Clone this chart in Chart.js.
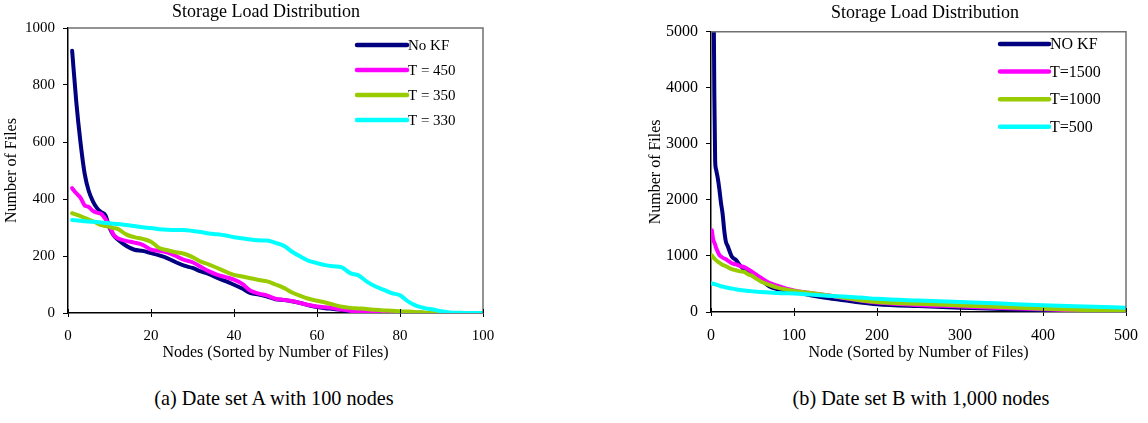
<!DOCTYPE html>
<html>
<head>
<meta charset="utf-8">
<script src="https://cdn.jsdelivr.net/npm/chart.js@4.4.4/dist/chart.umd.min.js"></script>
<style>
  html, body { margin: 0; padding: 0; background: #fff; width: 1148px; height: 423px; overflow: hidden; }
  .wrap { position: absolute; top: 0; }
  .cap {
    position: absolute; top: 385px;
    font-family: "Liberation Serif", "Times New Roman", serif; font-size: 22px; color: #000;
    white-space: nowrap; transform: translateX(-50%) scaleX(0.92);
  }
</style>
</head>
<body>
<div class="wrap" style="left:0"><canvas id="chartA" width="560" height="370"></canvas></div>
<div class="wrap" style="left:560px"><canvas id="chartB" width="588" height="370"></canvas></div>
<div class="cap" id="capA" style="left:274px"></div>
<div class="cap" id="capB" style="left:921px"></div>

<script>
// ── Data: set A (100 nodes) ────────────────────────────────────────────────
const nodesA = [1, 2, 3, 4, 5, 6, 7, 8, 9, 10, 11, 12,
  14, 16, 18, 20, 22, 24, 26, 28, 30, 32, 34, 36, 38, 40, 42, 44, 46, 48, 50, 52,
  54, 56, 58, 60, 62, 64, 66, 68, 70, 72, 74, 76, 78, 80, 82, 84, 86, 88, 90, 92,
  94, 96, 98, 100];
const noKfA = [920, 740, 600, 490, 428, 392, 368, 354, 343, 300, 272, 258,
  236, 222, 218, 210, 202, 192, 178, 166, 158, 146, 136, 123, 112, 99, 86, 70, 65, 58, 48, 46,
  41, 35, 27, 21, 17, 14, 10, 7, 5, 4, 3, 2, 2, 1, 1, 1, 0, 0, 0, 0,
  0, 0, 0, 0];
const t450A = [438, 420, 405, 378, 372, 358, 352, 348, 330, 305, 274, 262,
  253, 247, 239, 222, 218, 212, 200, 186, 178, 162, 146, 134, 126, 117, 102, 78, 68, 61, 50, 46,
  42, 35, 28, 23, 20, 17, 12, 8, 5, 3, 2, 1, 1, 1, 0, 0, 0, 0, 0, 0,
  0, 0, 0, 0];
const t350A = [350, 345, 340, 334, 328, 322, 315, 308, 305, 302, 298, 295,
  276, 266, 260, 250, 228, 220, 213, 208, 196, 180, 170, 158, 145, 134, 128, 122, 116, 111, 100, 88,
  72, 60, 50, 43, 37, 29, 22, 18, 16, 14, 11, 9, 8, 6, 5, 3, 2, 0, 0, 0,
  0, 0, 0, 0];
const t330A = [326, 325, 324, 322, 321, 320, 319, 318, 316, 315, 313, 312,
  309, 305, 301, 298, 294, 292, 291, 291, 288, 284, 279, 276, 272, 266, 262, 258, 255, 254, 246, 236,
  215, 198, 183, 175, 168, 164, 160, 140, 132, 110, 94, 82, 70, 62, 40, 25, 17, 12, 6, 2,
  1, 0, 0, 0];
const labelsA = ['No KF', 'T = 450', 'T = 350', 'T = 330'];

// ── Data: set B (1,000 nodes, first 500 shown) ─────────────────────────────
const nodesB = [1, 2, 3, 4, 5, 6, 8, 10, 12, 14, 16, 18, 20, 25, 30, 35, 40, 45, 50, 55,
  60, 70, 80, 90, 100, 120, 140, 160, 180, 200, 250, 300, 350, 400, 450, 500];
const noKfB = [14000, 9000, 6000, 3900, 2700, 2550, 2400, 2200, 1950, 1750, 1450, 1250, 1180, 990, 930, 830, 760, 715, 670, 625,
  580, 460, 410, 385, 360, 300, 250, 210, 170, 140, 105, 78, 52, 32, 18, 8];
const t1500B = [1460, 1350, 1270, 1240, 1200, 1150, 1080, 1020, 990, 970, 955, 940, 920, 870, 850, 820, 800, 760, 710, 660,
  610, 520, 470, 420, 385, 340, 300, 250, 205, 170, 125, 100, 70, 48, 25, 10];
const t1000B = [1010, 990, 970, 955, 940, 925, 900, 880, 860, 840, 830, 815, 800, 765, 745, 725, 715, 670, 640, 590,
  545, 485, 435, 400, 375, 340, 300, 255, 210, 180, 145, 118, 90, 60, 35, 15];
const t500B = [510, 505, 500, 498, 495, 490, 480, 470, 460, 452, 447, 440, 432, 420, 405, 392, 382, 375, 368, 362,
  355, 348, 340, 335, 330, 310, 290, 275, 258, 235, 205, 180, 150, 120, 98, 78];
const labelsB = ['NO KF', 'T=1500', 'T=1000', 'T=500'];

const chartTitle = 'Storage Load Distribution';
const captions = ['(a) Date set A with 100 nodes', '(b) Date set B with 1,000 nodes'];

// ── Style ──────────────────────────────────────────────────────────────────
const SERIF  = '"Liberation Serif", "Times New Roman", serif';
const NAVY   = '#000080';
const PINK   = '#FF00FF';
const LIME   = '#99CC00';
const CYAN   = '#00FFFF';
const COLORS = [NAVY, PINK, LIME, CYAN];

// frame top/right, inner x tick halves, title and in-plot legend
const decor = {
  id: 'decor',
  afterDraw(chart, args, o) {
    const { ctx, chartArea: a, scales: { x } } = chart;
    ctx.save();
    ctx.strokeStyle = '#707070';
    ctx.lineWidth = 1.5;
    ctx.beginPath();
    ctx.moveTo(a.left, a.top);
    ctx.lineTo(a.right, a.top);
    ctx.lineTo(a.right, a.bottom);
    ctx.stroke();

    ctx.strokeStyle = '#000';
    ctx.lineWidth = 1;
    x.ticks.forEach(t => {
      const px = Math.round(x.getPixelForValue(t.value)) + 0.5;
      ctx.beginPath();
      ctx.moveTo(px, a.bottom);
      ctx.lineTo(px, a.bottom - 4);
      ctx.stroke();
    });

    ctx.fillStyle = '#000';
    ctx.textAlign = 'center';
    ctx.textBaseline = 'middle';
    ctx.font = `18px ${SERIF}`;
    ctx.fillText(o.title, o.titleX, o.titleY);

    ctx.textAlign = 'left';
    ctx.font = `${o.size}px ${SERIF}`;
    chart.data.datasets.forEach((ds, i) => {
      const y = o.y0 + i * o.dy;
      ctx.strokeStyle = ds.borderColor;
      ctx.lineWidth = 4.5;
      ctx.lineCap = 'round';
      ctx.beginPath();
      ctx.moveTo(o.x0, y);
      ctx.lineTo(o.x0 + o.len, y);
      ctx.stroke();
      ctx.fillText(ds.label, o.x0 + o.len + 1, y + 1);
    });
    ctx.restore();
  },
};

function series(xs, ys, label, i) {
  return {
    label,
    data: xs.map((x, k) => ({ x, y: ys[k] })),
    borderColor: COLORS[i],
    backgroundColor: COLORS[i],
    borderWidth: 4,
    borderCapStyle: 'round',
    borderJoinStyle: 'round',
    pointRadius: 0,
    cubicInterpolationMode: 'monotone',
    order: 4 - i,
  };
}

const plain = v => String(v);   // no thousands separators, as in the original

function axes(xMax, xStep, yMax, yStep, xTitle, fs, yW, xH) {
  const tickFont = { family: SERIF, size: fs, weight: 'normal' };
  const titleFont = { family: SERIF, size: 16, weight: 'normal' };
  return {
    x: {
      type: 'linear', min: 0, max: xMax,
      ticks: { stepSize: xStep, color: '#000', font: tickFont, padding: 10, maxRotation: 0, callback: plain },
      grid: { drawOnChartArea: false, tickLength: 4, color: '#000' },
      border: { color: '#000', width: 1.5 },
      title: { display: true, text: xTitle, color: '#000', font: titleFont, padding: { top: 0, bottom: 8 } },
      afterFit(s) { s.height = xH; },
    },
    y: {
      type: 'linear', min: 0, max: yMax,
      ticks: { stepSize: yStep, color: '#000', font: tickFont, padding: 8, callback: plain },
      grid: { drawOnChartArea: false, tickLength: 5, color: '#000' },
      border: { color: '#000', width: 1.5 },
      title: { display: true, text: 'Number of Files', color: '#000', font: titleFont, padding: { top: 0, bottom: 4 } },
      afterFit(s) { s.width = yW; },
    },
  };
}

function mount(id, datasets, scales, padding, decorOpts) {
  return new Chart(document.getElementById(id), {
    type: 'line',
    data: { datasets },
    options: {
      responsive: false,
      animation: false,
      layout: { padding },
      plugins: { legend: { display: false }, tooltip: { enabled: false }, decor: decorOpts },
      scales,
    },
    plugins: [decor],
  });
}

mount('chartA',
  [series(nodesA, noKfA, labelsA[0], 0), series(nodesA, t450A, labelsA[1], 1),
   series(nodesA, t350A, labelsA[2], 2), series(nodesA, t330A, labelsA[3], 3)],
  axes(100, 20, 1000, 200, 'Nodes (Sorted by Number of Files)', 15, 66, 57),
  { left: 2, right: 77, top: 28, bottom: 0 },
  { title: chartTitle, titleX: 266, titleY: 12, x0: 357, len: 50, y0: 45, dy: 25, size: 15 });

mount('chartB',
  [series(nodesB, noKfB, labelsB[0], 0), series(nodesB, t1500B, labelsB[1], 1),
   series(nodesB, t1000B, labelsB[2], 2), series(nodesB, t500B, labelsB[3], 3)],
  axes(500, 100, 5000, 1000, 'Node (Sorted by Number of Files)', 16, 65, 58),
  { left: 86, right: 17, top: 31.7, bottom: 0 },
  { title: chartTitle, titleX: 365, titleY: 13, x0: 440, len: 49, y0: 44, dy: 27.6, size: 16 });

document.getElementById('capA').textContent = captions[0];
document.getElementById('capB').textContent = captions[1];
</script>
</body>
</html>
